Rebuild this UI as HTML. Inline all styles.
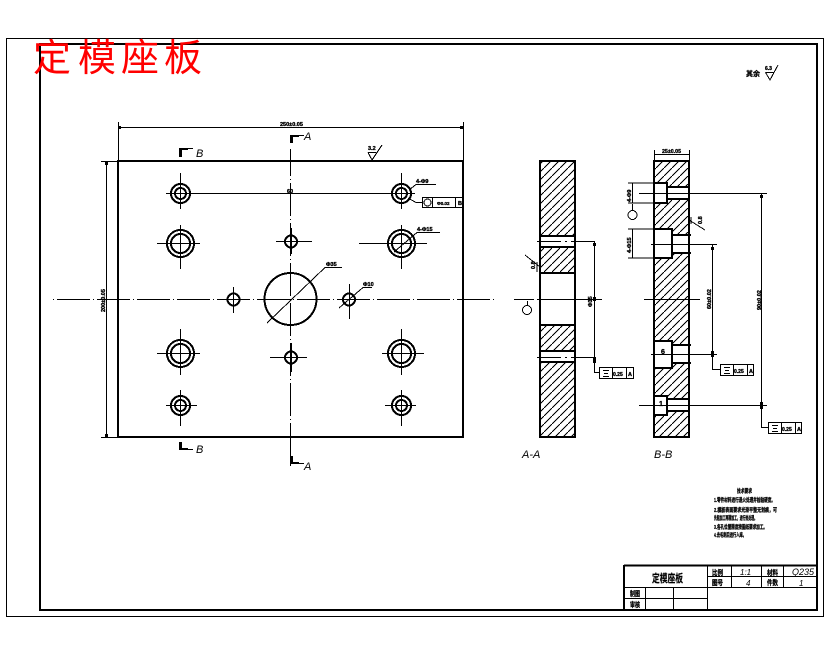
<!DOCTYPE html>
<html><head><meta charset="utf-8"><style>
html,body{margin:0;padding:0;background:#fff}
svg{display:block}
text{font-family:"Liberation Sans","Noto Sans CJK SC",sans-serif;fill:#000}
.i{font-style:italic;font-size:11px}
.t{font-size:5.5px;font-weight:bold;stroke:#000;stroke-width:.35px}
.c{font-size:7px;font-weight:bold;stroke:#000;stroke-width:.3px}
.n{font-size:5.5px;font-weight:bold;stroke:#000;stroke-width:.3px}
.r{font-size:38px;fill:#f00}
</style></head><body>
<svg width="830" height="654" viewBox="0 0 830 654" xmlns="http://www.w3.org/2000/svg" shape-rendering="crispEdges">
<defs>
<pattern id="h" width="8" height="8" patternUnits="userSpaceOnUse">
<path d="M-1 9L9 -1" stroke="#000" stroke-width="1" fill="none"/>
</pattern>
</defs>
<rect x="6.5" y="38.5" width="817" height="578" fill="none" stroke="#000"/>
<rect x="40" y="44" width="777" height="566" fill="none" stroke="#000" stroke-width="2"/>

<!-- main plate -->
<rect x="118" y="161" width="345" height="276" fill="none" stroke="#000" stroke-width="2"/>
<g stroke="#000" fill="none">
<!-- centre lines -->
<path d="M52 299.500H497" stroke-dasharray="33 3 1 3" stroke-dashoffset="35"/>
<path d="M290.500 149V466" stroke-dasharray="33 3 1 3" stroke-dashoffset="6"/>
<path d="M166 193.500H415M180.500 173V209M401.500 173V209"/>
<path d="M157 243.500H200M180.500 225V269M359 243.500H427M401.500 225V269"/>
<path d="M276 241.500H312M291.500 228V254"/>
<path d="M233.500 287V313M349.500 284V319M270 357.500H307M291.500 343V372"/>
<path d="M157 353.500H200M180.500 329V375M382 353.500H424M401.500 329V375"/>
<path d="M166 405.500H197M180.500 390V426M385 405.500H416M401.500 390V426"/>
<!-- holes -->
<g stroke-width="2">
<circle cx="180.500" cy="193.500" r="9.500"/><circle cx="180.500" cy="193.500" r="5.500"/>
<circle cx="401.500" cy="193.500" r="9.500"/><circle cx="401.500" cy="193.500" r="5.500"/>
<circle cx="180.500" cy="243.500" r="13.500"/><circle cx="180.500" cy="243.500" r="9.500"/>
<circle cx="401.500" cy="243.500" r="13.500"/><circle cx="401.500" cy="243.500" r="9.500"/>
<circle cx="180.500" cy="353.500" r="13.500"/><circle cx="180.500" cy="353.500" r="9.500"/>
<circle cx="401.500" cy="353.500" r="13.500"/><circle cx="401.500" cy="353.500" r="9.500"/>
<circle cx="180.500" cy="405.500" r="9.500"/><circle cx="180.500" cy="405.500" r="5.500"/>
<circle cx="401.500" cy="405.500" r="9.500"/><circle cx="401.500" cy="405.500" r="5.500"/>
<circle cx="291" cy="241.500" r="6"/><circle cx="291" cy="357.500" r="6"/>
<circle cx="233.500" cy="299.500" r="6"/><circle cx="349" cy="299.500" r="6"/>
<circle cx="290.500" cy="299" r="26"/>
</g>
<!-- leaders -->
<path d="M267 323L325 267.500H342M339 308L363 287.500H372M394 252L417 232.500H440M409 190L416 184.500H436M408 198L416 202.500H422"/>
<!-- top dim -->
<path d="M118.500 122V161M463.500 122V161M119 127.500H463"/>
<!-- left dim -->
<path d="M101 161.500H118M101 437.500H118M106.500 162V437"/>
<!-- feature control frame -->
<rect x="422.500" y="197.500" width="40" height="10" fill="#fff"/>
<path d="M432.500 198V207M455.500 198V207"/>
<circle cx="427.500" cy="202.500" r="3.500"/>
<!-- roughness -->
<path d="M368 152.500H376M368 152.500L372 160L382 145"/>
</g>
<g fill="#000" stroke="none">
<rect x="118" y="126" width="3" height="3"/><rect x="460" y="126" width="3" height="3"/>
<rect x="105" y="162" width="3" height="3"/><rect x="105" y="434" width="3" height="3"/>
<!-- section marks -->
<rect x="179" y="148" width="3" height="9"/><rect x="179" y="148" width="9" height="2"/><rect x="188" y="148" width="5" height="1"/>
<rect x="290" y="135" width="3" height="8"/><rect x="290" y="135" width="9" height="2"/><rect x="299" y="135" width="5" height="1"/>
<rect x="179" y="442" width="3" height="8"/><rect x="179" y="448" width="9" height="2"/><rect x="188" y="449" width="5" height="1"/>
<rect x="290" y="456" width="3" height="8"/><rect x="290" y="462" width="9" height="2"/><rect x="299" y="463" width="5" height="1"/>
</g>
<text class="i" x="196" y="157">B</text><text class="i" x="304" y="140">A</text>
<text class="i" x="196" y="453">B</text><text class="i" x="304" y="470">A</text>
<text class="t" x="280" y="126">250±0.05</text>
<text class="t" x="287" y="193">60</text>
<text class="t" x="368" y="150">3.2</text>
<text class="t" x="416" y="183">4-Φ9</text>
<text class="t" x="417" y="231">4-Φ15</text>
<text class="t" x="326" y="266">Φ35</text>
<text class="t" x="363" y="286">Φ10</text>
<text class="t" x="437" y="205" style="font-size:4.500px">Φ0.02</text>
<text class="t" x="458" y="205">B</text>
<text class="t" transform="translate(105 312) rotate(-90)">200±0.05</text>

<!-- A-A -->
<rect x="540" y="161" width="35" height="74" fill="url(#h)"/>
<rect x="540" y="247" width="35" height="26" fill="url(#h)"/>
<rect x="540" y="325" width="35" height="26" fill="url(#h)"/>
<rect x="540" y="363" width="35" height="74" fill="url(#h)"/>
<g stroke="#000" fill="none">
<path stroke-width="2" d="M540 160V438M575 160V438M539 161H576M539 236H576M539 247H576M539 273H576M539 325H576M539 351H576M539 362H576M539 437H576"/>
<path d="M537 241.500H599" stroke-dasharray="24 4 2 4"/>
<path d="M537 357.500H599" stroke-dasharray="24 4 2 4"/>
<path d="M514 299.500H534M537 299.500H602"/>
<path d="M594.500 241V372.500H599M527.500 301V305"/>
<path d="M525 255L540 267M537 262V272"/>
<circle cx="527" cy="310" r="4.500"/>
<rect x="599.500" y="367.500" width="34" height="11" fill="#fff"/>
<path d="M612.500 368V378M626.500 368V378M603 370.500H609M604 373.500H608M603 376.500H609"/>
</g>
<g fill="#000"><rect x="593" y="243" width="3" height="3"/><rect x="593" y="357" width="3" height="6"/><rect x="593" y="297" width="3" height="4"/></g>
<text class="t" transform="translate(592 307) rotate(-90)">Φ35</text>
<text class="t" transform="translate(535 269) rotate(-90)">0.8</text>
<text class="t" x="613" y="376" style="font-size:5px">0.25</text><text class="t" x="628" y="376">A</text>
<text class="i" x="522" y="458">A-A</text>

<!-- B-B -->
<rect x="654" y="161" width="35" height="276" fill="url(#h)"/>
<g fill="#fff" stroke="none">
<rect x="654" y="183" width="13" height="20"/><rect x="667" y="187" width="22" height="12"/>
<rect x="654" y="229" width="18" height="29"/><rect x="672" y="235" width="17" height="18"/>
<rect x="654" y="341" width="18" height="27"/><rect x="672" y="345" width="17" height="18"/>
<rect x="654" y="396" width="13" height="19"/><rect x="667" y="399" width="22" height="12"/>
</g>
<g stroke="#000" fill="none">
<path stroke-width="2" d="M654 160V438M689 160V438M653 161H690M653 437H690"/>
<path stroke-width="2" d="M654 183H667V203H654M667 187H689M667 199H689M654 229H672V258H654M672 235H691M672 253H691M654 341H672V368H654M672 345H691M672 363H691M654 396H667V415H654M667 399H689M667 411H689"/>
<path d="M654 183H628M654 203H628M654 229H628M654 258H628M632.500 183V203M632.500 229V258"/>
<path d="M639 193.500H767M639 405.500H767M651 244.500H717M651 354.500H717"/>
<path d="M644 299.500H700"/>
<path d="M712.500 245V369.500H720M761.500 194V427.500H768"/>
<path d="M689 220L705 230M691 217V224"/>
<path d="M654.500 150V161M689.500 150V161M655 154.500H689"/>
<circle cx="632.500" cy="215" r="4.500"/>
<path d="M632.500 204V210"/>
<rect x="720.500" y="364.500" width="33" height="11" fill="#fff"/>
<path d="M733.500 365V375M747.500 365V375M724 367.500H730M725 370.500H729M724 373.500H730"/>
<rect x="768.500" y="422.500" width="33" height="11" fill="#fff"/>
<path d="M781.500 423V433M795.500 423V433M772 425.500H778M773 428.500H777M772 431.500H778"/>
</g>
<g fill="#000"><rect x="711" y="247" width="3" height="3"/><rect x="711" y="351" width="3" height="6"/><rect x="760" y="195" width="3" height="3"/><rect x="760" y="402" width="3" height="7"/></g>
<text class="t" x="662" y="153" textLength="19" lengthAdjust="spacingAndGlyphs">25±0.05</text>
<text class="t" transform="translate(631 202) rotate(-90)">4-Φ9</text>
<text class="t" transform="translate(631 253) rotate(-90)">4-Φ15</text>
<text class="t" transform="translate(711 309) rotate(-90)">60±0.02</text>
<text class="t" transform="translate(761 310) rotate(-90)">90±0.02</text>
<text class="t" transform="translate(702 224) rotate(-90)">0.8</text>
<text class="t" x="661" y="354" style="font-size:7px">6</text>
<text class="t" x="659" y="406" style="font-size:7px">1</text>
<text class="t" x="734" y="373" style="font-size:5px">0.25</text><text class="t" x="749" y="373">A</text>
<text class="t" x="782" y="431" style="font-size:5px">0.25</text><text class="t" x="797" y="431">A</text>
<text class="i" x="654" y="458">B-B</text>

<!-- notes -->
<text class="n" x="737" y="493" textLength="15" lengthAdjust="spacingAndGlyphs">技术要求</text>
<text class="n" x="714" y="502" textLength="61" lengthAdjust="spacingAndGlyphs">1.零件材料进行退火处理并检验硬度。</text>
<text class="n" x="714" y="512" textLength="63" lengthAdjust="spacingAndGlyphs">2.模板表面要求光滑平整无划痕，可</text>
<text class="n" x="714" y="520" textLength="43" lengthAdjust="spacingAndGlyphs">先粗加工再精加工，进行热处理。</text>
<text class="n" x="714" y="529" textLength="53" lengthAdjust="spacingAndGlyphs">3.各孔位置精度按图纸要求加工。</text>
<text class="n" x="714" y="537" textLength="32" lengthAdjust="spacingAndGlyphs">4.去毛刺后进行入库。</text>

<!-- title block -->
<g stroke="#000" fill="none">
<path stroke-width="2" d="M624 565.500H817M624 565V610"/>
<path d="M707.500 566V610M731.500 566V587M761.500 566V587M783.500 566V587M707 576.500H817M624 587.500H817M624 598.500H707M645.500 587V610M673.500 587V610"/>
</g>
<text x="652" y="582" style="font-size:11px;font-weight:bold;stroke:#000;stroke-width:.2px" textLength="31" lengthAdjust="spacingAndGlyphs">定模座板</text>
<text class="c" x="712" y="575" textLength="11" lengthAdjust="spacingAndGlyphs">比例</text><text class="c" x="712" y="585" textLength="11" lengthAdjust="spacingAndGlyphs">图号</text>
<text class="c" x="767" y="575" textLength="11" lengthAdjust="spacingAndGlyphs">材料</text><text class="c" x="767" y="585" textLength="11" lengthAdjust="spacingAndGlyphs">件数</text>
<text class="c" x="630" y="596" textLength="10" lengthAdjust="spacingAndGlyphs">制图</text><text class="c" x="630" y="607" textLength="10" lengthAdjust="spacingAndGlyphs">审核</text>
<text class="i" x="740" y="575" style="font-size:8px">1:1</text>
<text class="i" x="746" y="586" style="font-size:8px">4</text>
<text class="i" x="792" y="575" style="font-size:9px">Q235</text>
<text class="i" x="799" y="586" style="font-size:8px">1</text>

<!-- roughness top right -->
<text class="c" x="746" y="76" textLength="14" lengthAdjust="spacingAndGlyphs">其余</text>
<text class="t" x="765" y="70" style="font-size:5px">6.3</text>
<path d="M765.500 72.500H774M765.500 72.500L770 80L778 65" fill="none" stroke="#000"/>

<!-- red title -->
<text class="r" x="33" y="71">定</text>
<text class="r" x="78" y="71">模</text>
<text class="r" x="121" y="71">座</text>
<text class="r" x="164" y="71">板</text>
</svg>
</body></html>
